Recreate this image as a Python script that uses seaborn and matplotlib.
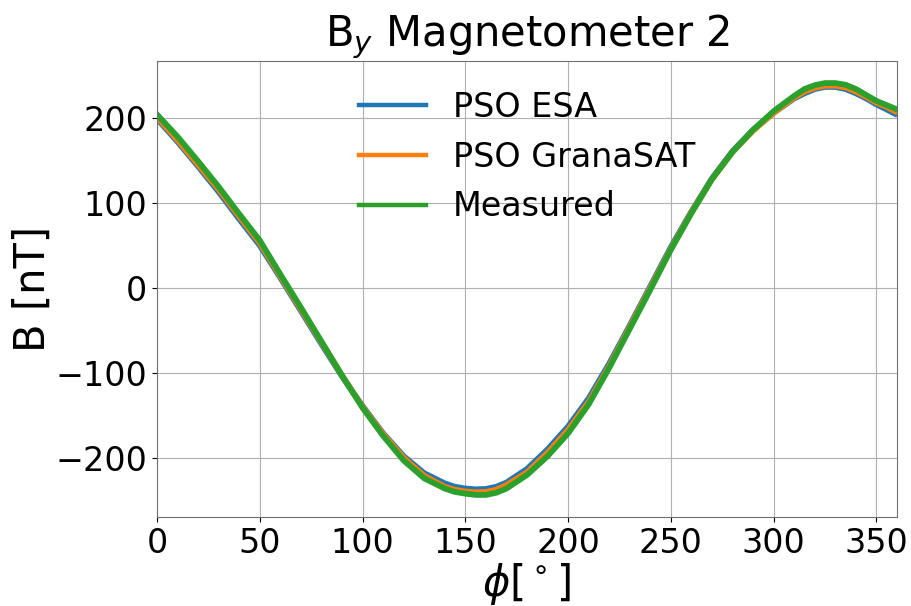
import matplotlib
matplotlib.use("Agg")
import matplotlib.pyplot as plt
import seaborn as sns
import pandas as pd

phi = [0, 10, 20, 30, 40, 50, 60, 70, 80, 90, 100, 110, 120, 130, 140, 145, 150, 155, 160, 165,
       170, 180, 190, 200, 210, 220, 230, 240, 250, 260, 270, 280, 290, 300, 310, 315, 320, 325,
       330, 335, 340, 345, 350, 355, 359]

pso_esa = [199, 172, 143, 113, 81, 50, 12, -27, -66, -104, -139, -171, -198, -218, -230, -234,
           -236, -237, -236.5, -234, -229, -213, -190, -163, -130, -89, -44, 2, 48, 90, 129,
           161, 186, 206, 223, 229, 234, 236.5, 236.5, 234, 229, 223, 216, 210, 205]

pso_granasat = [201, 174, 145, 116, 84, 53, 14, -25, -64, -103, -140, -172, -200, -221, -234,
                -237.5, -239.5, -240.5, -240, -237.5, -232, -217, -194, -167, -134, -92, -46,
                0, 46, 89, 128, 160, 185, 206, 224, 231, 235.5, 238, 238, 236, 231, 225, 218,
                213, 208]

measured = [204, 178, 149, 119, 87, 56, 16, -23, -63, -103, -141, -174, -203, -224, -236, -240,
            -242, -243.5, -243.5, -241, -236, -220, -198, -171, -137, -94, -48, -2, 45, 88,
            128, 160, 186, 208, 226, 234, 238.5, 241, 241, 239, 234, 227, 220, 215, 211]

series_names = ["PSO ESA", "PSO GranaSAT", "Measured"]
colors = ["#1f77b4", "#ff7f0e", "#2ca02c"]

rows = []
for name, vals in zip(series_names, [pso_esa, pso_granasat, measured]):
    for p, v in zip(phi, vals):
        rows.append({"phi": p, "B": v, "series": name})
df = pd.DataFrame(rows)

fig = plt.figure(figsize=(9.12, 6.06), dpi=100)
ax = fig.add_axes([157 / 912, 1 - 517 / 606, (897 - 157) / 912, (517 - 61) / 606])

sns.lineplot(data=df, x="phi", y="B", hue="series", hue_order=series_names,
             palette=colors, linewidth=4.2, ax=ax, sort=False)

ax.set_xlim(0, 360)
ax.set_ylim(-269.5, 267)
ax.set_xticks([0, 50, 100, 150, 200, 250, 300, 350])
ax.set_yticks([-200, -100, 0, 100, 200])
ax.grid(True, color="#b0b0b0", linewidth=0.8)
ax.tick_params(labelsize=24)
for s in ax.spines.values():
    s.set_color("#707070")

ax.set_title(r"B$_y$ Magnetometer 2", fontsize=30)
ax.set_xlabel(r"$\phi [^\circ]$", fontsize=30, labelpad=1)
ax.set_ylabel("B [nT]", fontsize=30, labelpad=1)

leg = ax.legend(loc="upper center", fontsize=24, frameon=False)
for line in leg.get_lines():
    line.set_linewidth(3.2)

fig.savefig("out.png", dpi=100)
